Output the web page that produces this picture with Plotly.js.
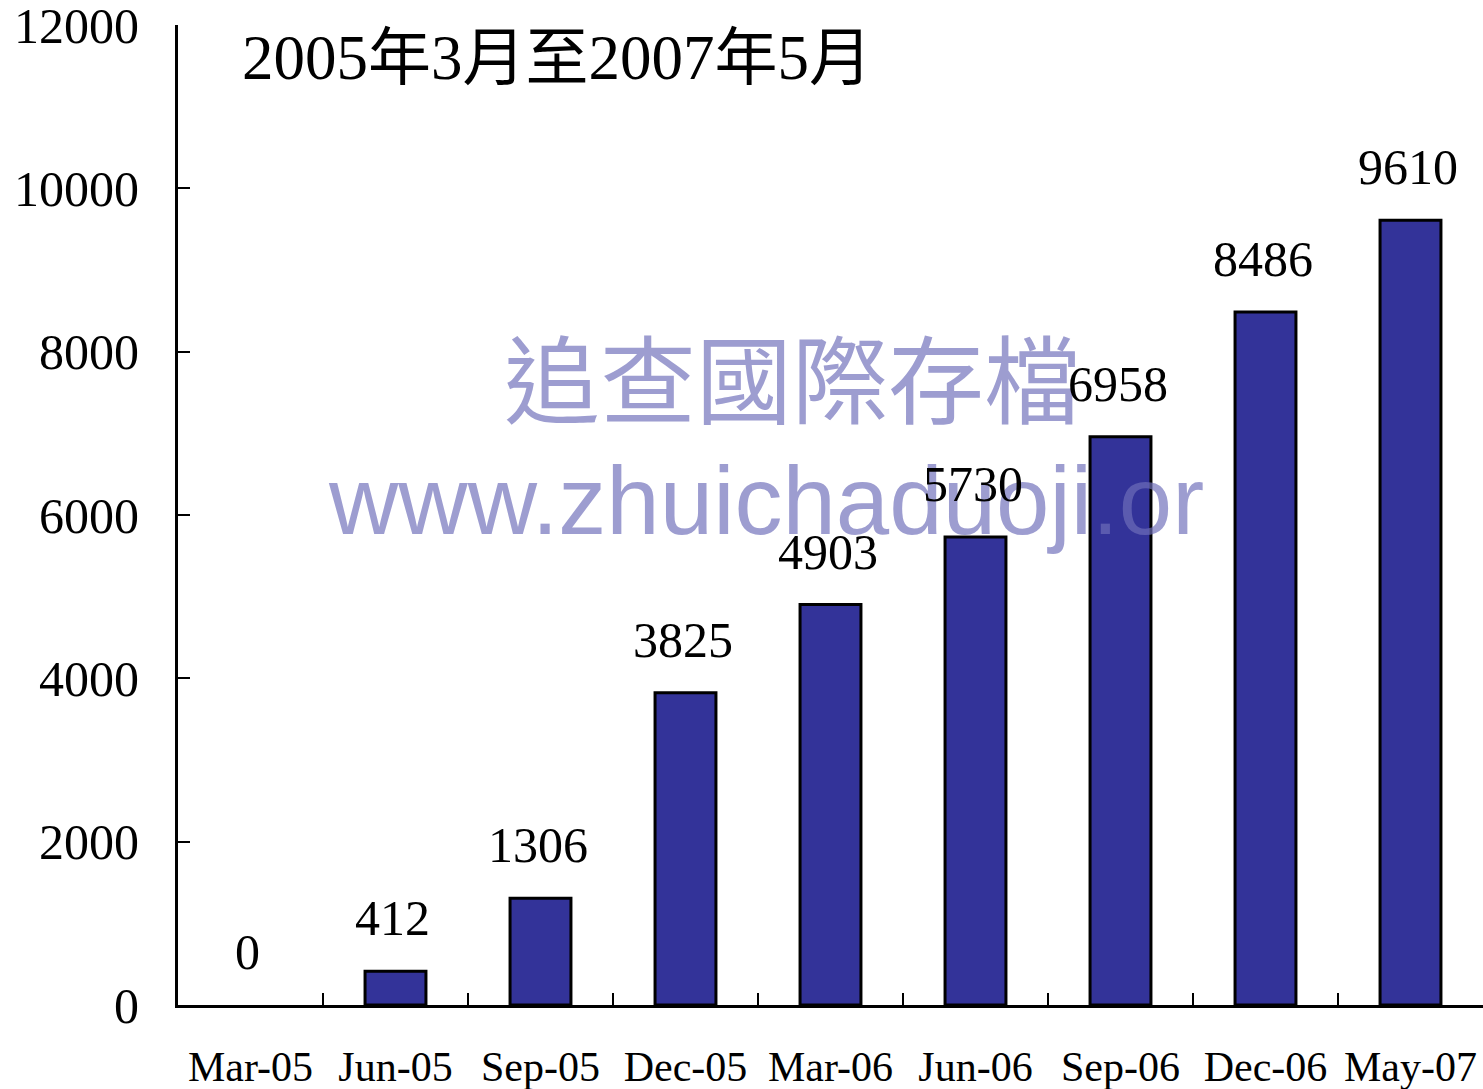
<!DOCTYPE html>
<html>
<head>
<meta charset="utf-8">
<script src="https://cdn.plot.ly/plotly-3.0.1.min.js"></script>
<style>html,body{margin:0;padding:0;background:#fff;}#chart{width:1483px;height:1089px;}</style>
</head>
<body>
<div id="chart"></div>
<script>
const categories = ["Mar-05","Jun-05","Sep-05","Dec-05","Mar-06","Jun-06","Sep-06","Dec-06","May-07"];
const values = [0, 412, 1306, 3825, 4903, 5730, 6958, 8486, 9610];
const yTicks = [0, 2000, 4000, 6000, 8000, 10000, 12000];
const titleText = "2005年3月至2007年5月";
const watermarkCn = "追查國際存檔";
const watermarkUrl = "www.zhuichaduoji.or";

const serif = "Liberation Serif, Times New Roman, serif";
const cjkSerif = "Liberation Serif, Noto Sans CJK SC, serif";

const trace = {
  type: "bar",
  x: categories,
  y: values,
  width: 0.42,
  marker: {color: "#333399", line: {color: "#000000", width: values.map(v => v > 0 ? 3 : 0)}},
  hoverinfo: "none"
};

const annotations = [
  {xref: "paper", yref: "paper", x: 0.4705, y: 0.643, xanchor: "center", yanchor: "middle",
   text: watermarkCn, showarrow: false,
   font: {family: "Noto Sans CJK TC, sans-serif", size: 96, color: "rgba(110,110,185,0.68)"}},
  {xref: "paper", yref: "paper", x: 0.4506, y: 0.515, xanchor: "center", yanchor: "middle",
   text: watermarkUrl, showarrow: false,
   font: {family: "Liberation Sans, Arial, sans-serif", size: 96, color: "rgba(110,110,185,0.68)"}},
  {xref: "paper", yref: "paper", x: 0.0475, y: 0.966, xanchor: "left", yanchor: "middle",
   text: titleText, showarrow: false,
   font: {family: cjkSerif, size: 63, color: "#000"}}
];
categories.forEach((c, i) => {
  annotations.push({
    x: c, y: values[i], xref: "x", yref: "y",
    text: String(values[i]), showarrow: false,
    xanchor: "center", yanchor: "middle", yshift: 53, xshift: -3,
    font: {family: serif, size: 50, color: "#000"}
  });
});

const layout = {
  width: 1483, height: 1089,
  margin: {l: 178, r: 0, t: 25, b: 84},
  paper_bgcolor: "#fff", plot_bgcolor: "#fff",
  showlegend: false,
  bargap: 0.58,
  xaxis: {
    type: "category",
    showline: true, linecolor: "#000", linewidth: 3,
    ticks: "inside", ticklen: 12, tickwidth: 2, tickcolor: "#000",
    tickson: "boundaries",
    tickangle: 0,
    showgrid: false, zeroline: false,
    tickfont: {family: serif, size: 42, color: "#000"},
    ticklabelstandoff: 23,
    ticklabeloverflow: "allow"
  },
  yaxis: {
    range: [0, 12000],
    tickvals: yTicks,
    ticktext: yTicks.map(String),
    showline: true, linecolor: "#000", linewidth: 3,
    ticks: "inside", ticklen: 12, tickwidth: 2, tickcolor: "#000",
    showgrid: false, zeroline: false,
    tickfont: {family: serif, size: 50, color: "#000"},
    ticklabelstandoff: 26,
    ticklabeloverflow: "allow"
  },
  annotations: annotations
};

Plotly.newPlot("chart", [trace], layout, {displayModeBar: false, staticPlot: true});
</script>
</body>
</html>
